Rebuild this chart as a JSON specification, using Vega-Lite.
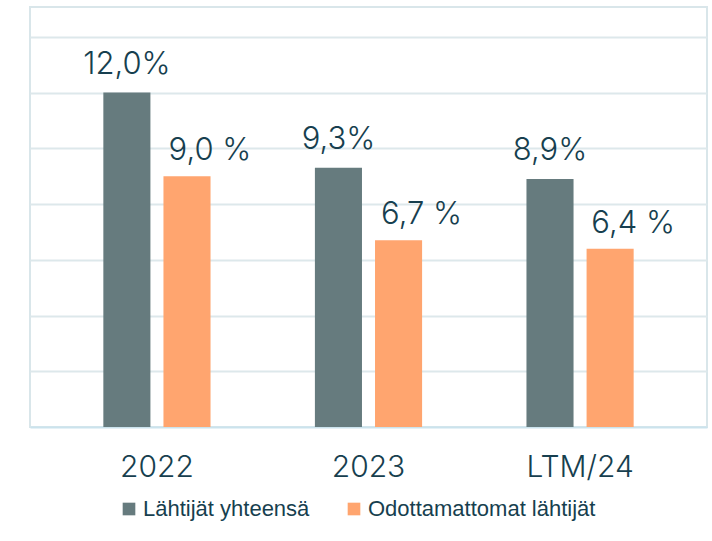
{
  "$schema": "https://vega.github.io/schema/vega-lite/v6.json",
  "width": 677,
  "height": 420,
  "autosize": {"type": "none"},
  "padding": {"left": 30, "top": 7, "right": 5, "bottom": 114},
  "background": "white",
  "config": {
    "view": {"stroke": "#d9e6ea", "strokeWidth": 2},
    "font": "Inter"
  },
  "data": {
    "values": [
      {"year": "2022", "series": "Lähtijät yhteensä", "value": 12.0, "label": "12,0%"},
      {"year": "2022", "series": "Odottamattomat lähtijät", "value": 9.0, "label": "9,0 %"},
      {"year": "2023", "series": "Lähtijät yhteensä", "value": 9.3, "label": "9,3%"},
      {"year": "2023", "series": "Odottamattomat lähtijät", "value": 6.7, "label": "6,7 %"},
      {"year": "LTM/24", "series": "Lähtijät yhteensä", "value": 8.9, "label": "8,9%"},
      {"year": "LTM/24", "series": "Odottamattomat lähtijät", "value": 6.4, "label": "6,4 %"}
    ]
  },
  "encoding": {
    "x": {
      "field": "year",
      "type": "nominal",
      "sort": ["2022", "2023", "LTM/24"],
      "scale": {"paddingInner": 0, "paddingOuter": 0.1},
      "axis": {
        "title": null,
        "labelAngle": 0,
        "labelFontSize": 30,
        "labelFontWeight": 300,
        "labelColor": "#173f4f",
        "labelPadding": 25,
        "ticks": false,
        "domainColor": "#cbe3ed",
        "domainWidth": 2,
        "grid": false
      }
    },
    "xOffset": {
      "field": "series",
      "sort": ["Lähtijät yhteensä", "Odottamattomat lähtijät"],
      "scale": {"paddingInner": 0.217, "paddingOuter": 0.868}
    },
    "y": {
      "field": "value",
      "type": "quantitative",
      "scale": {"domain": [0, 15.07], "nice": false},
      "axis": {
        "title": null,
        "labels": false,
        "ticks": false,
        "domain": false,
        "values": [2, 4, 6, 8, 10, 12, 14],
        "gridColor": "#dde8eb",
        "gridWidth": 2
      }
    }
  },
  "layer": [
    {
      "mark": {"type": "bar"},
      "encoding": {
        "color": {
          "field": "series",
          "type": "nominal",
          "sort": ["Lähtijät yhteensä", "Odottamattomat lähtijät"],
          "scale": {"domain": ["Lähtijät yhteensä", "Odottamattomat lähtijät"], "range": ["#667b7e", "#ffa56f"]},
          "legend": {
            "title": null,
            "orient": "none",
            "legendX": 88,
            "legendY": 491,
            "direction": "horizontal",
            "symbolType": "square",
            "symbolSize": 160,
            "symbolStrokeWidth": 0,
            "labelFont": "Liberation Sans",
            "labelFontSize": 22,
            "labelLimit": 400,
            "labelColor": "#173f4f",
            "labelOffset": 3,
            "columnPadding": 33,
            "padding": 0
          }
        }
      }
    },
    {
      "transform": [{"filter": "datum.series == 'Lähtijät yhteensä'"}],
      "mark": {"type": "text", "baseline": "alphabetic", "dy": -19, "fontSize": 31, "fontWeight": 300, "color": "#173f4f"},
      "encoding": {"text": {"field": "label"}}
    },
    {
      "transform": [{"filter": "datum.series == 'Odottamattomat lähtijät'"}],
      "mark": {"type": "text", "baseline": "alphabetic", "dx": 23, "dy": -16, "fontSize": 31, "fontWeight": 300, "color": "#173f4f"},
      "encoding": {"text": {"field": "label"}}
    }
  ]
}
